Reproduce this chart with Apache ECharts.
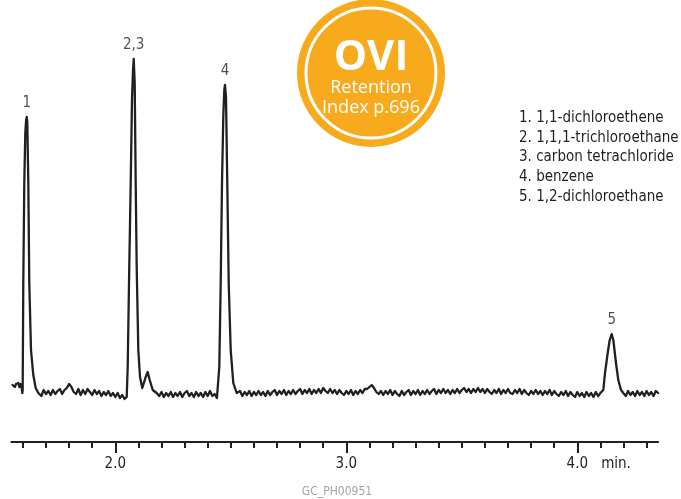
<!DOCTYPE html>
<html>
<head>
<meta charset="utf-8">
<script src="https://cdn.jsdelivr.net/npm/echarts@6/dist/echarts.min.js"></script>
<style>
html,body{margin:0;padding:0;background:#fff;}
#chart{width:681px;height:499px;}
</style>
</head>
<body>
<div id="chart"></div>
<script>
// ---- Data (retention time in min, detector signal in arbitrary units) ----
var signal = [
  [1.555,17],[1.560,19],[1.565,15],[1.570,18],[1.575,16],[1.580,19],[1.585,15],[1.590,18],[1.595,14],[1.5975,9],
  [1.5990,12],[1.6017,119],[1.6060,219],[1.6104,269],[1.6140,282],[1.6165,285],[1.6190,280],[1.6234,219],[1.6277,119],
  [1.6350,52],[1.6450,27],[1.6554,14],[1.6667,9],
  [1.67,10],[1.68,6],[1.69,12],[1.70,8],[1.71,11],[1.72,7],[1.73,12],[1.74,8],[1.75,11],[1.76,13],[1.77,8],[1.78,12],
  [1.79,14],[1.80,18],[1.81,15],[1.82,10],[1.83,8],[1.84,13],[1.85,7],[1.86,12],[1.87,8],[1.88,13],[1.89,10],[1.90,7],
  [1.91,12],[1.92,8],[1.93,11],[1.94,6],[1.95,10],[1.96,7],[1.97,11],[1.98,6],[1.99,9],[2.00,5],[2.01,9],[2.02,4],
  [2.03,7],[2.04,3],[2.0494,5],
  [2.0537,35],[2.0593,119],[2.0667,219],[2.0723,302],[2.0767,332],[2.0797,343],[2.0840,319],[2.0883,219],[2.0926,135],
  [2.0996,52],[2.1069,25],[2.1169,14],[2.1210,12],[2.1316,25],[2.1403,30],[2.1490,22],[2.1620,12],[2.1790,9],
  [2.19,6],[2.20,10],[2.21,5],[2.22,9],[2.23,6],[2.24,10],[2.25,5],[2.26,9],[2.27,6],[2.28,10],[2.29,5],[2.30,9],[2.31,11],
  [2.32,6],[2.33,9],[2.34,5],[2.35,10],[2.36,6],[2.37,9],[2.38,5],[2.39,10],[2.40,6],[2.41,11],[2.42,6],[2.43,8],[2.44,4],
  [2.4459,2],[2.4502,35],[2.4563,119],[2.4619,219],[2.4675,285],[2.4719,312],[2.4749,317],[2.4792,305],[2.4848,219],
  [2.4909,119],[2.4996,52],[2.5108,19],[2.5255,9],
  [2.53,7],[2.54,11],[2.55,6],[2.56,10],[2.57,7],[2.58,11],[2.59,6],[2.60,10],[2.61,7],[2.62,11],
  [2.63,7],[2.64,10],[2.65,6],[2.66,11],[2.67,7],[2.68,10],[2.69,12],[2.70,7],[2.71,11],[2.72,8],
  [2.73,12],[2.74,7],[2.75,11],[2.76,8],[2.77,12],[2.78,8],[2.79,11],[2.80,13],[2.81,8],[2.82,12],
  [2.83,9],[2.84,13],[2.85,8],[2.86,12],[2.87,9],[2.88,13],[2.89,9],[2.90,14],[2.91,11],[2.92,9],
  [2.93,13],[2.94,9],[2.95,12],[2.96,8],[2.97,12],[2.98,9],[2.99,7],[3.00,11],[3.01,8],[3.02,12],
  [3.03,7],[3.04,11],[3.05,8],[3.06,12],[3.07,9],[3.08,13],[3.09,13],[3.10,15],[3.11,17],[3.12,14],
  [3.13,10],[3.14,8],[3.15,11],[3.16,7],[3.17,11],[3.18,8],[3.19,12],[3.20,7],[3.21,11],[3.22,8],
  [3.23,6],[3.24,11],[3.25,7],[3.26,10],[3.27,12],[3.28,7],[3.29,11],[3.30,8],[3.31,12],[3.32,7],
  [3.33,11],[3.34,8],[3.35,12],[3.36,8],[3.37,11],[3.38,13],[3.39,8],[3.40,12],[3.41,9],[3.42,13],
  [3.43,9],[3.44,12],[3.45,8],[3.46,12],[3.47,9],[3.48,13],[3.49,9],[3.50,12],[3.51,14],[3.52,10],
  [3.53,13],[3.54,9],[3.55,13],[3.56,10],[3.57,14],[3.58,10],[3.59,13],[3.60,9],[3.61,13],[3.62,10],
  [3.63,8],[3.64,12],[3.65,9],[3.66,13],[3.67,8],[3.68,12],[3.69,9],[3.70,13],[3.71,9],[3.72,8],
  [3.73,12],[3.74,9],[3.75,13],[3.76,8],[3.77,12],[3.78,9],[3.79,7],[3.80,11],[3.81,8],[3.82,12],
  [3.83,8],[3.84,11],[3.85,7],[3.86,11],[3.87,8],[3.88,12],[3.89,7],[3.90,11],[3.91,8],[3.92,6],
  [3.93,10],[3.94,7],[3.95,11],[3.96,6],[3.97,10],[3.98,7],[3.99,5],[4.00,10],[4.01,6],[4.02,9],
  [4.03,5],[4.04,10],[4.05,6],[4.06,9],[4.07,5],[4.08,10],[4.09,6],[4.10,9],
  [4.1056,8],[4.1126,12],[4.1199,29],[4.1316,49],[4.1403,62],[4.1489,68],[4.1559,62],[4.1675,39],[4.1775,22],
  [4.1892,12],[4.1991,9],
  [4.21,6],[4.22,11],[4.23,7],[4.24,10],[4.25,6],[4.26,11],[4.27,7],[4.28,10],[4.29,6],[4.30,11],[4.31,7],[4.32,10],
  [4.33,6],[4.34,11],[4.35,9]
];
var peakNames   = ['1', '2,3', '4', '5'];
var peakTimes   = [1.6165, 2.0797, 2.4749, 4.1489];
var peakHeights = [285, 343, 317, 68];

var compounds = [
  '1. 1,1-dichloroethene',
  '2. 1,1,1-trichloroethane',
  '3. carbon tetrachloride',
  '4. benzene',
  '5. 1,2-dichloroethane'
];
var axisMin = 1.55, axisMax = 4.35;   // plotted time range
var tickMin = 1.6, tickMax = 4.3;     // minor ticks range (every 0.1 min)
var majorMin = 2.0, majorMax = 4.0;   // labelled ticks
var axisUnit = 'min.';
var badgeTitle = 'OVI';
var badgeLines = ['Retention', 'Index p.696'];
var footnote = 'GC_PH00951';

// ---- Layout ----
var W = 681;
var pxPerMin = 231;
var x0 = 115.3 - (2.0 - axisMin) * pxPerMin; // pixel of axisMin
var NARROW = "'DejaVu Sans Condensed', 'Liberation Sans Narrow', sans-serif";
var INK = '#231f20';

function gridFor(tmin, tmax, top, height) {
  var left = x0 + (tmin - axisMin) * pxPerMin;
  var right = W - (x0 + (tmax - axisMin) * pxPerMin);
  return { left: left, right: right, top: top, height: height, containLabel: false };
}

var chart = echarts.init(document.getElementById('chart'), null, { renderer: 'canvas' });

var legendGraphics = compounds.map(function (txt, i) {
  return {
    type: 'text', x: 519, y: 118 + i * 19.8,
    style: { text: txt, font: '15px ' + NARROW, fill: INK, verticalAlign: 'middle' }
  };
});

var option = {
  backgroundColor: '#ffffff',
  animation: false,
  grid: [
    gridFor(axisMin, axisMax, 52, 390),
    gridFor(tickMin, tickMax, 400, 42),
    gridFor(majorMin, majorMax, 400, 42)
  ],
  xAxis: [
    { gridIndex: 0, type: 'value', min: axisMin, max: axisMax,
      axisLine: { show: true, onZero: false, lineStyle: { color: INK, width: 2 } },
      axisTick: { show: false }, axisLabel: { show: false }, splitLine: { show: false } },
    { gridIndex: 1, type: 'value', min: tickMin, max: tickMax, interval: 0.1,
      axisLine: { show: false },
      axisTick: { show: true, length: 6, lineStyle: { color: INK, width: 2 } },
      axisLabel: { show: false }, splitLine: { show: false } },
    { gridIndex: 2, type: 'value', min: majorMin, max: majorMax, interval: 1,
      axisLine: { show: false },
      axisTick: { show: true, length: 11, lineStyle: { color: INK, width: 2 } },
      axisLabel: { show: true, margin: 15, color: INK, fontFamily: NARROW, fontSize: 15,
        formatter: function (v) { return v.toFixed(1); } },
      splitLine: { show: false } }
  ],
  yAxis: [
    { gridIndex: 0, type: 'value', min: -40, max: 350, show: false },
    { gridIndex: 1, type: 'value', show: false },
    { gridIndex: 2, type: 'value', show: false }
  ],
  series: [
    {
      type: 'line', xAxisIndex: 0, yAxisIndex: 0,
      data: signal, showSymbol: false, symbol: 'none', smooth: false,
      lineStyle: { color: INK, width: 2.3, join: 'round', cap: 'round' }, z: 3
    },
    {
      type: 'scatter', xAxisIndex: 0, yAxisIndex: 0,
      data: peakTimes.map(function (t, i) { return { value: [t, peakHeights[i]], name: peakNames[i] }; }),
      symbolSize: 1, itemStyle: { color: 'rgba(0,0,0,0)' },
      label: { show: true, position: 'top', distance: 6, formatter: '{b}',
        color: INK, fontFamily: NARROW, fontSize: 15 },
      z: 4
    }
  ],
  graphic: [
    { type: 'circle', shape: { cx: 371, cy: 73, r: 74 }, style: { fill: '#F6AA1C' } },
    { type: 'circle', shape: { cx: 371, cy: 73, r: 65 }, style: { fill: 'none', stroke: '#ffffff', lineWidth: 3 } },
    { type: 'text', x: 371, y: 58, style: { text: badgeTitle, font: "bold 42px 'Open Sans', sans-serif",
        fill: '#ffffff', align: 'center', verticalAlign: 'middle' } },
    { type: 'text', x: 371, y: 88, style: { text: badgeLines[0], font: "18px 'Open Sans', sans-serif",
        fill: '#ffffff', align: 'center', verticalAlign: 'middle' } },
    { type: 'text', x: 371, y: 108, style: { text: badgeLines[1], font: "18px 'Open Sans', sans-serif",
        fill: '#ffffff', align: 'center', verticalAlign: 'middle' } },
    { type: 'text', x: 616, y: 464, style: { text: axisUnit, font: '15px ' + NARROW, fill: INK,
        align: 'center', verticalAlign: 'middle' } },
    { type: 'text', x: 337, y: 492, style: { text: footnote, font: '12px ' + NARROW, fill: '#a3a3a3',
        align: 'center', verticalAlign: 'middle' } }
  ].concat(legendGraphics)
};
chart.setOption(option);
</script>
</body>
</html>
